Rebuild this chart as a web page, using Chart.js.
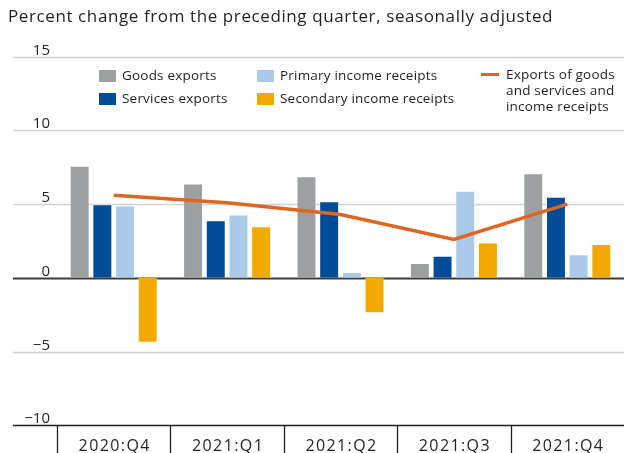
<!DOCTYPE html>
<html lang="en">
<head>
<meta charset="UTF-8">
<title>Exports and income receipts</title>
<script src="https://cdn.jsdelivr.net/npm/chart.js"></script>
<style>
  html, body { margin: 0; padding: 0; background: #fff; }
  #wrap { width: 624px; height: 453px; position: relative; }
</style>
</head>
<body>
<div id="wrap"><canvas id="chart"></canvas></div>
<script>
// quarters and series (percent change from preceding quarter)
const quarters = ['2020:Q4', '2021:Q1', '2021:Q2', '2021:Q3', '2021:Q4'];
const goodsExports = [7.6, 6.4, 6.9, 1.0, 7.1];
const servicesExports = [5.0, 3.9, 5.2, 1.5, 5.5];
const primaryIncome = [4.9, 4.3, 0.4, 5.9, 1.6];
const secondaryIncome = [-4.4, 3.5, -2.4, 2.4, 2.3];
const totalExports = [5.6, 5.1, 4.3, 2.6, 5.0];
const yTicks = [-10, -5, 0, 5, 10, 15];

const FONT = '"Open Sans", sans-serif';
const TEXT = '#231f20';

// gridlines, tick labels, category separators, title and legend
const decorations = {
  id: 'decorations',
  beforeDatasetsDraw(chart) {
    const { ctx, chartArea, scales } = chart;
    const y = scales.y;
    ctx.save();
    ctx.font = '15px ' + FONT;
    ctx.textAlign = 'right';
    ctx.textBaseline = 'alphabetic';
    yTicks.forEach(v => {
      const py = Math.round(y.getPixelForValue(v)) + 0.5;
      ctx.beginPath();
      ctx.strokeStyle = v === 0 ? '#3b3b3b' : (v === -10 ? '#231f20' : '#cdd1d1');
      ctx.lineWidth = v === 0 ? 2 : 1.3;
      ctx.moveTo(13, py);
      ctx.lineTo(chartArea.right, py);
      ctx.stroke();
      ctx.fillStyle = TEXT;
      ctx.fillText(v < 0 ? '\u2212' + Math.abs(v) : String(v), 50, py - 3);
    });
    ctx.restore();
  },
  afterDraw(chart) {
    const { ctx, chartArea, scales } = chart;
    const x = scales.x;
    ctx.save();

    // category separators and labels under the plot
    const half = (x.getPixelForValue(1) - x.getPixelForValue(0)) / 2;
    ctx.strokeStyle = '#231f20';
    ctx.lineWidth = 1.3;
    quarters.forEach((q, i) => {
      const cx = x.getPixelForValue(i);
      const sx = Math.round(cx - half) + 0.5;
      ctx.beginPath();
      ctx.moveTo(sx, chartArea.bottom);
      ctx.lineTo(sx, 453);
      ctx.stroke();
      ctx.fillStyle = TEXT;
      ctx.font = '16px ' + FONT;
      ctx.letterSpacing = '1.4px';
      ctx.textAlign = 'center';
      ctx.textBaseline = 'alphabetic';
      ctx.fillText(q, cx + 1, 451);
    });
    ctx.letterSpacing = '0px';

    // title
    ctx.fillStyle = TEXT;
    ctx.font = '17px ' + FONT;
    ctx.letterSpacing = '0.6px';
    ctx.textAlign = 'left';
    ctx.textBaseline = 'middle';
    ctx.fillText('Percent change from the preceding quarter, seasonally adjusted', 8, 17);
    ctx.letterSpacing = '0px';

    // legend
    ctx.font = '13.5px ' + FONT;
    ctx.letterSpacing = '0.2px';
    const ds = chart.data.datasets;
    const boxes = [
      { d: ds[0], x: 99, y: 76 },
      { d: ds[1], x: 99, y: 99 },
      { d: ds[2], x: 257, y: 76 },
      { d: ds[3], x: 257, y: 99 }
    ];
    boxes.forEach(b => {
      ctx.fillStyle = b.d.backgroundColor;
      ctx.fillRect(b.x, b.y - 6, 17, 12);
      ctx.fillStyle = TEXT;
      ctx.fillText(b.d.label, b.x + 23, b.y);
    });
    const ln = ds[4];
    ctx.strokeStyle = ln.borderColor;
    ctx.lineWidth = 3;
    ctx.beginPath();
    ctx.moveTo(481, 74.5);
    ctx.lineTo(499, 74.5);
    ctx.stroke();
    ctx.fillStyle = TEXT;
    ['Exports of goods', 'and services and', 'income receipts'].forEach((t, i) => {
      ctx.fillText(t, 506, 75 + i * 16);
    });
    ctx.restore();
  }
};

const barStyle = { borderWidth: 1, borderColor: 'rgba(255,255,255,0.45)', order: 2 };

new Chart(document.getElementById('chart'), {
  type: 'bar',
  data: {
    labels: quarters,
    datasets: [
      { label: 'Goods exports', data: goodsExports, backgroundColor: '#9da0a1', ...barStyle },
      { label: 'Services exports', data: servicesExports, backgroundColor: '#004c97', ...barStyle },
      { label: 'Primary income receipts', data: primaryIncome, backgroundColor: '#abcae9', ...barStyle },
      { label: 'Secondary income receipts', data: secondaryIncome, backgroundColor: '#f2a900', ...barStyle },
      {
        type: 'line',
        label: 'Exports of goods and services and income receipts',
        data: totalExports,
        borderColor: '#df6620',
        backgroundColor: '#df6620',
        borderWidth: 3.5,
        pointRadius: 0,
        tension: 0,
        order: 1
      }
    ]
  },
  options: {
    responsive: true,
    maintainAspectRatio: false,
    animation: false,
    layout: { padding: { left: 57, right: 0, top: 56.7, bottom: 27.7 } },
    datasets: { bar: { categoryPercentage: 0.8, barPercentage: 0.88 } },
    scales: {
      x: { display: false, offset: true },
      y: { display: false, min: -10, max: 15 }
    },
    plugins: {
      legend: { display: false },
      title: { display: false },
      tooltip: { enabled: false }
    }
  },
  plugins: [decorations]
});
</script>
</body>
</html>
